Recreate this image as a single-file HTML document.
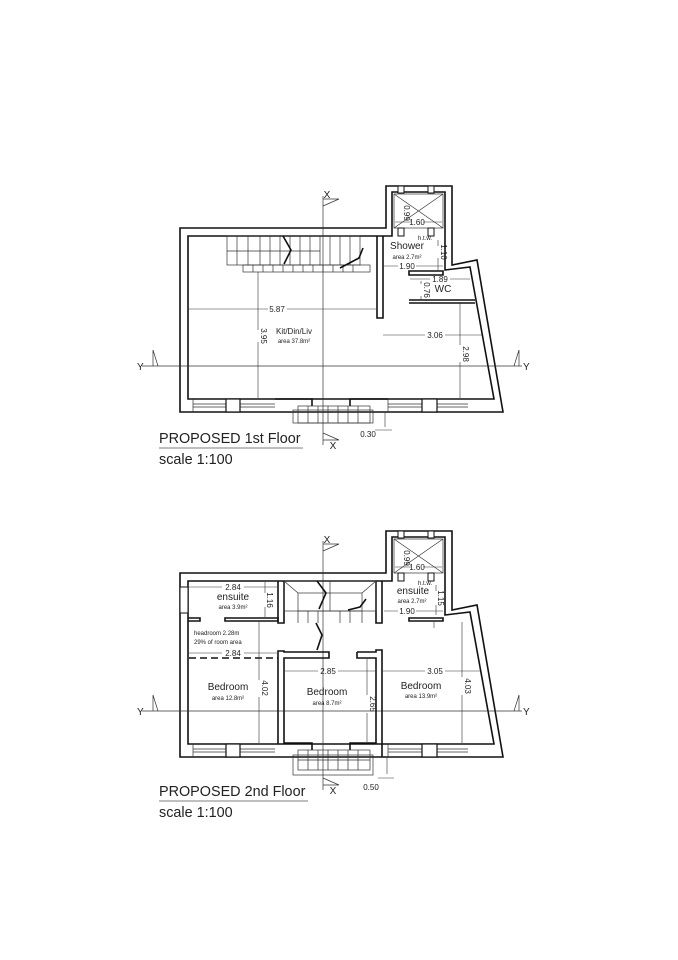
<!DOCTYPE html>
<html><head><meta charset="utf-8"><style>
html,body{margin:0;padding:0;background:#fff}
svg{display:block}
text{font-family:"Liberation Sans",sans-serif;fill:#222}
.w{fill:none;stroke:#111;stroke-width:1.6}
.t{fill:none;stroke:#333;stroke-width:0.7}
.d{fill:none;stroke:#333;stroke-width:0.6}
.s{font-size:8px}
.xs{font-size:6px}
.m{font-size:10px}
</style></head><body>
<svg width="678" height="960" viewBox="0 0 678 960" xmlns="http://www.w3.org/2000/svg">
<defs>
<g id="shell">
  <path class="w" d="M180,412 L180,228 L386,228 L386,186 L452,186 L452,265 L477,260 L503,412 Z"/>
  <path class="w" d="M392,236 H188 V399 H494 L470,267 L445,270 V192 H392 Z"/>
  <rect class="t" x="394" y="194" width="49" height="34"/>
  <path class="t" d="M394,194 L443,228 M443,194 L394,228"/>
  <rect x="398" y="186" width="6" height="7" fill="#fff" stroke="#111" stroke-width="1"/>
  <rect x="428" y="186" width="6" height="7" fill="#fff" stroke="#111" stroke-width="1"/>
  <rect x="398" y="228" width="6" height="8" fill="#fff" stroke="#111" stroke-width="1"/>
  <rect x="428" y="228" width="6" height="8" fill="#fff" stroke="#111" stroke-width="1"/>
  <text class="s" x="417" y="225" text-anchor="middle">1.60</text>
  <path class="d" d="M395,222 H411 M423,222 H442"/>
  <text class="s" transform="translate(404,213) rotate(90)" text-anchor="middle">0.99</text>
  <text class="xs" x="425" y="240" text-anchor="middle">h.t.w.</text>
  <g class="t">
    <path d="M193,399 V412 M193,404 H226 M193,407 H226 M240,399 V412 M240,404 H275 M240,407 H275"/>
    <path d="M388,399 V412 M388,404 H422 M388,407 H422 M437,399 V412 M437,404 H468 M437,407 H468"/>
  </g>
  <rect x="226" y="399" width="14" height="13" fill="#fff" stroke="#111" stroke-width="1.2"/>
  <rect x="422" y="399" width="15" height="13" fill="#fff" stroke="#111" stroke-width="1.2"/>
  <path class="t" d="M142,366 H522"/>
  <path class="t" d="M153,366 L153,350 L158,366 M514,366 L519,350 L519,366"/>
  <text class="m" x="137" y="370">Y</text>
  <text class="m" x="523" y="370">Y</text>
  <path class="t" d="M323,196 V445"/>
  <path class="t" d="M323,206 L339,199 L323,199 M323,433 L339,440 L323,440"/>
  <text class="m" x="327" y="198" text-anchor="middle">X</text>
  <text class="m" x="333" y="449" text-anchor="middle">X</text>
</g>
</defs>

<use href="#shell"/>
<g>
  <path class="w" d="M377,236 V318 H383 V236"/>
  <path class="w" d="M409,271 H443 V275 H409 Z M409,300 H475 M409,303 H475"/>
  <g class="t">
    <rect x="227" y="236" width="133" height="29"/>
    <rect x="243" y="265" width="127" height="7"/>
    <path d="M227,251 H320 M260,236 V265 M270,236 V265 M280,236 V265 M290,236 V265 M300,236 V265 M310,236 V265 M320,236 V265 M330,236 V265 M340,236 V265 M350,236 V265"/>
    <path d="M237,236 V265 M248,236 V265 M253,265 V272 M263,265 V272 M273,265 V272 M283,265 V272 M293,265 V272 M303,265 V272 M313,265 V272 M323,265 V272 M333,265 V272 M343,265 V272 M353,265 V272"/>
  </g>
  <path class="w" d="M283,236 L291,250 L284,264 M340,268 L359,258 L363,248"/>
  <path class="w" d="M275,399 H312 V406 M350,406 V399 H388"/>
  <rect x="298" y="406" width="72" height="17" fill="#fff" class="t"/>
  <rect x="293" y="410" width="80" height="13" fill="none" class="t"/>
  <path class="t" d="M308,406 V423 M318,406 V423 M328,406 V423 M338,406 V423 M348,406 V423 M358,406 V423"/>
  <g class="d">
    <path d="M189,309 H268 M287,309 H376"/>
    <path d="M258,272 V330 M258,342 V398"/>
    <path d="M383,335 H425 M445,335 H482"/>
    <path d="M460,303 V345 M460,362 V398"/>
    <path d="M384,266 H398 M416,266 H443"/>
    <path d="M410,279 H430 M450,279 H470"/>
    <path d="M438,240 V246 M438,258 V270"/>
    <path d="M421,281 V284 M421,296 V300"/>
    <path d="M385,412 V427 M375,430 H392"/>
  </g>
  <text class="s" x="277" y="312" text-anchor="middle">5.87</text>
  <text class="s" transform="translate(261,336) rotate(90)" text-anchor="middle">3.95</text>
  <text class="s" x="294" y="334" text-anchor="middle">Kit/Din/Liv</text>
  <text class="xs" x="294" y="343" text-anchor="middle">area 37.8m²</text>
  <text class="s" x="435" y="338" text-anchor="middle">3.06</text>
  <text class="s" transform="translate(463,354) rotate(90)" text-anchor="middle">2.98</text>
  <text class="m" x="407" y="249" text-anchor="middle">Shower</text>
  <text class="xs" x="407" y="259" text-anchor="middle">area 2.7m²</text>
  <text class="s" transform="translate(441,252) rotate(90)" text-anchor="middle">1.10</text>
  <text class="s" x="407" y="269" text-anchor="middle">1.90</text>
  <text class="s" x="440" y="282" text-anchor="middle">1.89</text>
  <text class="s" transform="translate(424,290) rotate(90)" text-anchor="middle">0.76</text>
  <text class="m" x="443" y="292" text-anchor="middle">WC</text>
  <text class="s" x="368" y="437" text-anchor="middle">0.30</text>
  <text x="159" y="443" font-size="14.4">PROPOSED 1st Floor</text>
  <path d="M159,448 H303" stroke="#555" stroke-width="0.8"/>
  <text x="159" y="464" font-size="14.4">scale 1:100</text>
</g>

<g transform="translate(0,345)">
  <use href="#shell"/>
  <path class="w" d="M278,236 V278 H284 V236 M376,236 V278 H382 V236"/>
  <g class="t">
    <rect x="284" y="236" width="92" height="30"/>
    <rect x="298" y="248" width="64" height="18"/>
    <path d="M298,266 V278 M308,266 V278 M318,266 V278 M340,266 V278 M350,266 V278 M362,266 V278"/>
    <path d="M284,236 L298,248 M376,236 L362,248 M330,236 V266"/>
  </g>
  <path class="w" d="M317,236 L326,248 L319,264 M348,265 L360,262 L366,254 M316,278 L322,290 L317,305"/>
  <path class="w" d="M188,273 H200 V276 H188 M225,273 H278 V276 H225 Z"/>
  <path class="w" d="M409,273 H443 V276 H409 Z"/>
  <rect x="180" y="242" width="8" height="26" fill="#fff" stroke="#111" stroke-width="1"/>
  <path d="M189,313 H278" stroke="#111" stroke-width="1.6" stroke-dasharray="7,4"/>
  <path class="w" d="M278,399 V306 H284 V307 H329 V313 H284 V398 H312 V405"/>
  <path class="w" d="M357,307 H376 V305 H382 V399 M357,307 V313 H376 V398 H350 V405"/>
  <path class="w" d="M382,399 V412"/>
  <rect x="298" y="405" width="72" height="20" fill="#fff" class="t"/>
  <rect x="293" y="410" width="80" height="20" fill="none" class="t"/>
  <path class="t" d="M308,405 V425 M318,405 V425 M328,405 V425 M338,405 V425 M348,405 V425 M358,405 V425 M298,415 H370"/>
  <g class="d">
    <path d="M189,242 H222 M244,242 H277"/>
    <path d="M265,237 V248 M265,262 V272"/>
    <path d="M189,308 H222 M244,308 H277"/>
    <path d="M259,277 V335 M259,352 V398"/>
    <path d="M285,326 H318 M338,326 H375"/>
    <path d="M367,314 V350 M367,368 V397"/>
    <path d="M383,326 H425 M445,326 H480"/>
    <path d="M462,277 V332 M462,350 V398"/>
    <path d="M384,266 H398 M416,266 H443"/>
    <path d="M436,240 V246 M436,260 V270 M434,277 V283"/>
    <path d="M387,412 V429 M378,433 H394"/>
  </g>
  <text class="s" x="233" y="245" text-anchor="middle">2.84</text>
  <text class="m" x="233" y="255" text-anchor="middle">ensuite</text>
  <text class="xs" x="233" y="264" text-anchor="middle">area 3.9m²</text>
  <text class="s" transform="translate(267,255) rotate(90)" text-anchor="middle">1.16</text>
  <text class="xs" x="194" y="290">headroom 2.28m</text>
  <text class="xs" x="194" y="299">29% of room area</text>
  <text class="s" x="233" y="311" text-anchor="middle">2.84</text>
  <text class="m" x="228" y="345" text-anchor="middle">Bedroom</text>
  <text class="xs" x="228" y="355" text-anchor="middle">area 12.8m²</text>
  <text class="s" transform="translate(262,343) rotate(90)" text-anchor="middle">4.02</text>
  <text class="s" x="328" y="329" text-anchor="middle">2.85</text>
  <text class="m" x="327" y="350" text-anchor="middle">Bedroom</text>
  <text class="xs" x="327" y="360" text-anchor="middle">area 8.7m²</text>
  <text class="s" transform="translate(370,359) rotate(90)" text-anchor="middle">2.65</text>
  <text class="s" x="435" y="329" text-anchor="middle">3.05</text>
  <text class="m" x="421" y="344" text-anchor="middle">Bedroom</text>
  <text class="xs" x="421" y="353" text-anchor="middle">area 13.9m²</text>
  <text class="s" transform="translate(465,341) rotate(90)" text-anchor="middle">4.03</text>
  <text class="m" x="413" y="249" text-anchor="middle">ensuite</text>
  <text class="xs" x="412" y="258" text-anchor="middle">area 2.7m²</text>
  <text class="s" transform="translate(438,253) rotate(90)" text-anchor="middle">1.15</text>
  <text class="s" x="407" y="269" text-anchor="middle">1.90</text>
  <text class="s" x="371" y="445" text-anchor="middle">0.50</text>
  <text x="159" y="451" font-size="14.4">PROPOSED 2nd Floor</text>
  <path d="M159,456 H308" stroke="#555" stroke-width="0.8"/>
  <text x="159" y="472" font-size="14.4">scale 1:100</text>
</g>
</svg>
</body></html>
